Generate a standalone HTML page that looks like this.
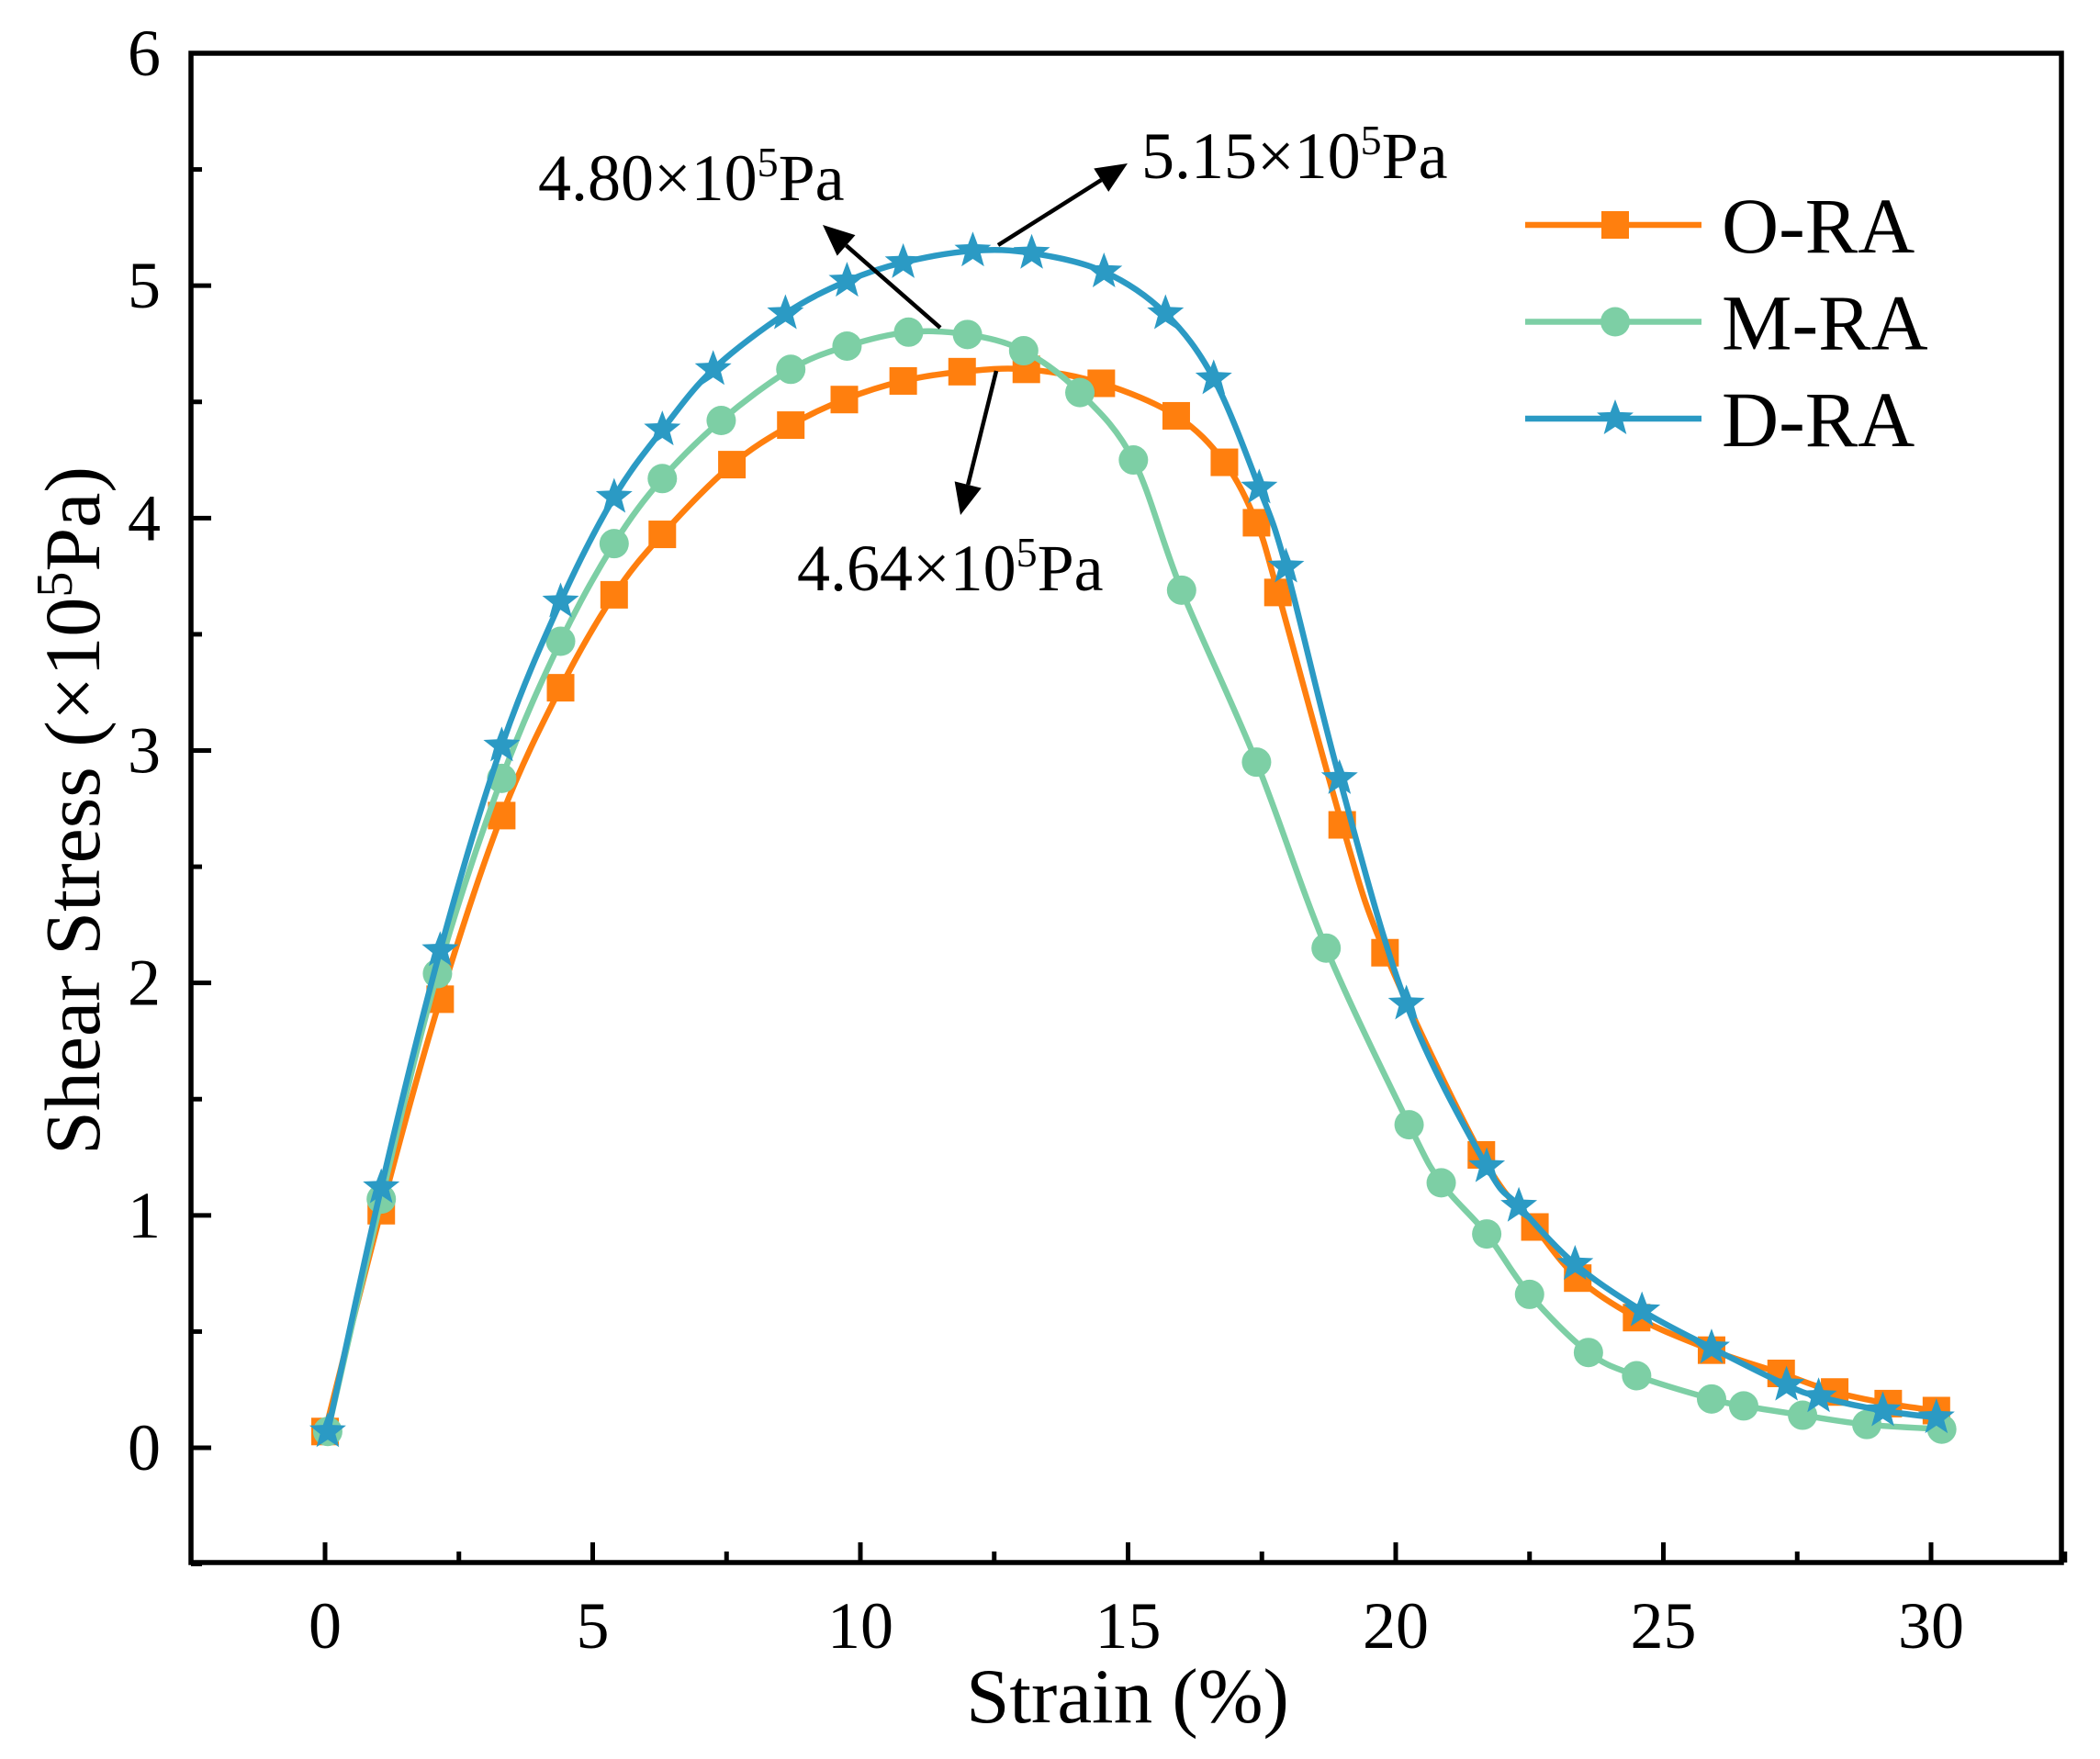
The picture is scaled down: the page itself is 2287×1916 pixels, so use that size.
<!DOCTYPE html>
<html><head><meta charset="utf-8"><style>
html,body{margin:0;padding:0;background:#fff;}
svg{display:block;font-family:"Liberation Serif",serif;}
</style></head><body>
<svg id="chart" width="2287" height="1916" viewBox="0 0 2287 1916" xmlns="http://www.w3.org/2000/svg">
<g id="plot"></g>
</svg>
<script>
const xTicks = [0,5,10,15,20,25,30];
const yTicks = [0,1,2,3,4,5,6];
const oX = [0,1.05,2.15,3.3,4.4,5.4,6.3,7.6,8.7,9.7,10.8,11.9,13.1,14.5,15.9,16.8,17.4,17.8,19.0,19.8,21.6,22.6,23.4,24.5,25.9,27.2,28.2,29.2,30.1];
const oY = [0.07,1.02,1.93,2.72,3.27,3.67,3.93,4.23,4.4,4.51,4.59,4.63,4.64,4.58,4.44,4.24,3.98,3.68,2.68,2.13,1.26,0.95,0.73,0.56,0.42,0.32,0.24,0.19,0.16];
const mX = [0.05,1.05,2.1,3.3,4.4,5.4,6.3,7.4,8.7,9.75,10.9,12.0,13.05,14.1,15.1,16.0,17.4,18.7,20.25,20.85,21.7,22.5,23.6,24.5,25.9,26.5,27.6,28.8,30.2];
const mY = [0.07,1.07,2.04,2.88,3.47,3.89,4.17,4.42,4.64,4.74,4.80,4.79,4.72,4.54,4.25,3.69,2.95,2.15,1.39,1.14,0.92,0.66,0.41,0.31,0.21,0.18,0.14,0.10,0.08];
const dX = [0.05,1.05,2.15,3.3,4.4,5.4,6.3,7.25,8.6,9.75,10.8,12.1,13.2,14.55,15.7,16.6,17.45,17.95,18.95,20.2,21.7,22.3,23.35,24.6,25.9,27.3,27.9,29.1,30.1];
const dY = [0.07,1.12,2.14,3.02,3.64,4.09,4.38,4.64,4.88,5.02,5.10,5.15,5.14,5.06,4.88,4.60,4.13,3.79,2.88,1.91,1.21,1.04,0.79,0.59,0.43,0.27,0.22,0.16,0.13];
const seriesNames = ["O-RA","M-RA","D-RA"];

const NS="http://www.w3.org/2000/svg";
const L=208,R=2245,T=58,B=1702;
const xs=v=>354+v*(2103-354)/30;
const ys=v=>1577-v*(1577-58)/6;
const g=document.getElementById('plot');
function el(tag,attrs,parent){const e=document.createElementNS(NS,tag);for(const k in attrs)e.setAttribute(k,attrs[k]);(parent||g).appendChild(e);return e;}

const frame=el('rect',{x:L,y:T,width:R-L,height:B-T,fill:'none',stroke:'#000','stroke-width':5.5});



xTicks.forEach(v=>{
  const t=el('line',{x1:xs(v),x2:xs(v),y1:B,y2:B-22,stroke:'#000','stroke-width':5});
  
  
  const m=el('line',{x1:xs(v+2.5),x2:xs(v+2.5),y1:B,y2:B-12,stroke:'#000','stroke-width':5});
  
  
  const tx=el('text',{x:xs(v),y:1795,'text-anchor':'middle','font-size':72});
  tx.textContent=v;
  
  
});
yTicks.forEach(v=>{
  const t=el('line',{x1:L,x2:L+22,y1:ys(v),y2:ys(v),stroke:'#000','stroke-width':5});
  
  
  const m=el('line',{x1:L,x2:L+12,y1:ys(v-0.5),y2:ys(v-0.5),stroke:'#000','stroke-width':5});
  
  
  const tx=el('text',{x:175,y:ys(v)+24,'text-anchor':'end','font-size':72});
  tx.textContent=v;
  
  
});
const xt=el('text',{x:1228,y:1876,'text-anchor':'middle','font-size':85});
xt.textContent='Strain (%)';


const yt=el('text',{x:0,y:0,'text-anchor':'middle','font-size':86,transform:'translate(108,883) rotate(-90)'});
yt.innerHTML='Shear Stress (×10<tspan dy="-30" font-size="56">5</tspan><tspan dy="30">Pa)</tspan>';



function pathD(px,py){
  const P=px.map((x,i)=>[xs(x),ys(py[i])]);
  let d='M'+P[0][0]+','+P[0][1];
  for(let i=0;i<P.length-1;i++){
    const p0=P[Math.max(0,i-1)],p1=P[i],p2=P[i+1],p3=P[Math.min(P.length-1,i+2)];
    const c1=[p1[0]+(p2[0]-p0[0])/6,p1[1]+(p2[1]-p0[1])/6];
    const c2=[p2[0]-(p3[0]-p1[0])/6,p2[1]-(p3[1]-p1[1])/6];
    d+=` C${c1[0]},${c1[1]} ${c2[0]},${c2[1]} ${p2[0]},${p2[1]}`;
  }
  return d;
}
function star(cx,cy,r){let s='';for(let i=0;i<10;i++){const a=-Math.PI/2+i*Math.PI/5;const rr=i%2?r*0.42:r;s+=(i?'L':'M')+(cx+rr*Math.cos(a))+','+(cy+rr*Math.sin(a));}return s+'Z';}
function marker(type,cx,cy,col,name,parent){
  let e;
  if(type==='sq')e=el('rect',{x:cx-15,y:cy-15,width:30,height:30,fill:col},parent);
  else if(type==='ci')e=el('circle',{cx:cx,cy:cy,r:16,fill:col},parent);
  else e=el('path',{d:star(cx,cy,21),fill:col},parent);
  
  
}
const defs=[[oX,oY,'#ff7f0e','sq','o-ra'],[mX,mY,'#7dcfa5','ci','m-ra'],[dX,dY,'#2b9ac4','st','d-ra']];
defs.forEach(([X,Y,col,type,nm])=>{
  const sg=el('g',{});
  
  
  const p=el('path',{d:pathD(X,Y),fill:'none',stroke:col,'stroke-width':6.5},sg);
  
  
  X.forEach((x,i)=>marker(type,xs(x),ys(Y[i]),col,nm+'-point',sg));
});
const lg=el('g',{});


defs.forEach(([X,Y,col,type,nm],i)=>{
  const y=245+i*105.5;
  const eg=el('g',{},lg);
  
  
  el('line',{x1:1661,x2:1853,y1:y,y2:y,stroke:col,'stroke-width':6.5},eg);
  marker(type,1759,y,col,'legend-marker',eg);
  const t=el('text',{x:1875,y:y+30,'font-size':86},eg);
  t.textContent=seriesNames[i];
  
  
});
function ann(x,y,v,name){
  const t=el('text',{x:x,y:y,'font-size':72});
  t.innerHTML=v+'×10<tspan dy="-26" font-size="46">5</tspan><tspan dy="26">Pa</tspan>';
  
  
}
ann(586,218,'4.80','annotation-m-ra-peak');
ann(1243,194,'5.15','annotation-d-ra-peak');
ann(868,643,'4.64','annotation-o-ra-peak');
function arrow(x1,y1,x2,y2,name){
  const ang=Math.atan2(y2-y1,x2-x1),L2=34,W=15;
  const bx=x2-L2*Math.cos(ang),by=y2-L2*Math.sin(ang);
  const a=el('line',{x1:x1,y1:y1,x2:bx,y2:by,stroke:'#000','stroke-width':4.5});
  
  
  const h=el('path',{d:`M${x2},${y2} L${bx-W*Math.sin(ang)},${by+W*Math.cos(ang)} L${bx+W*Math.sin(ang)},${by-W*Math.cos(ang)} Z`,fill:'#000'});
  
  
}
arrow(1024,357,896,245,'arrow-m-ra');
arrow(1087,267,1228,178,'arrow-d-ra');
arrow(1085,404,1046,561,'arrow-o-ra');
</script>
</body></html>
